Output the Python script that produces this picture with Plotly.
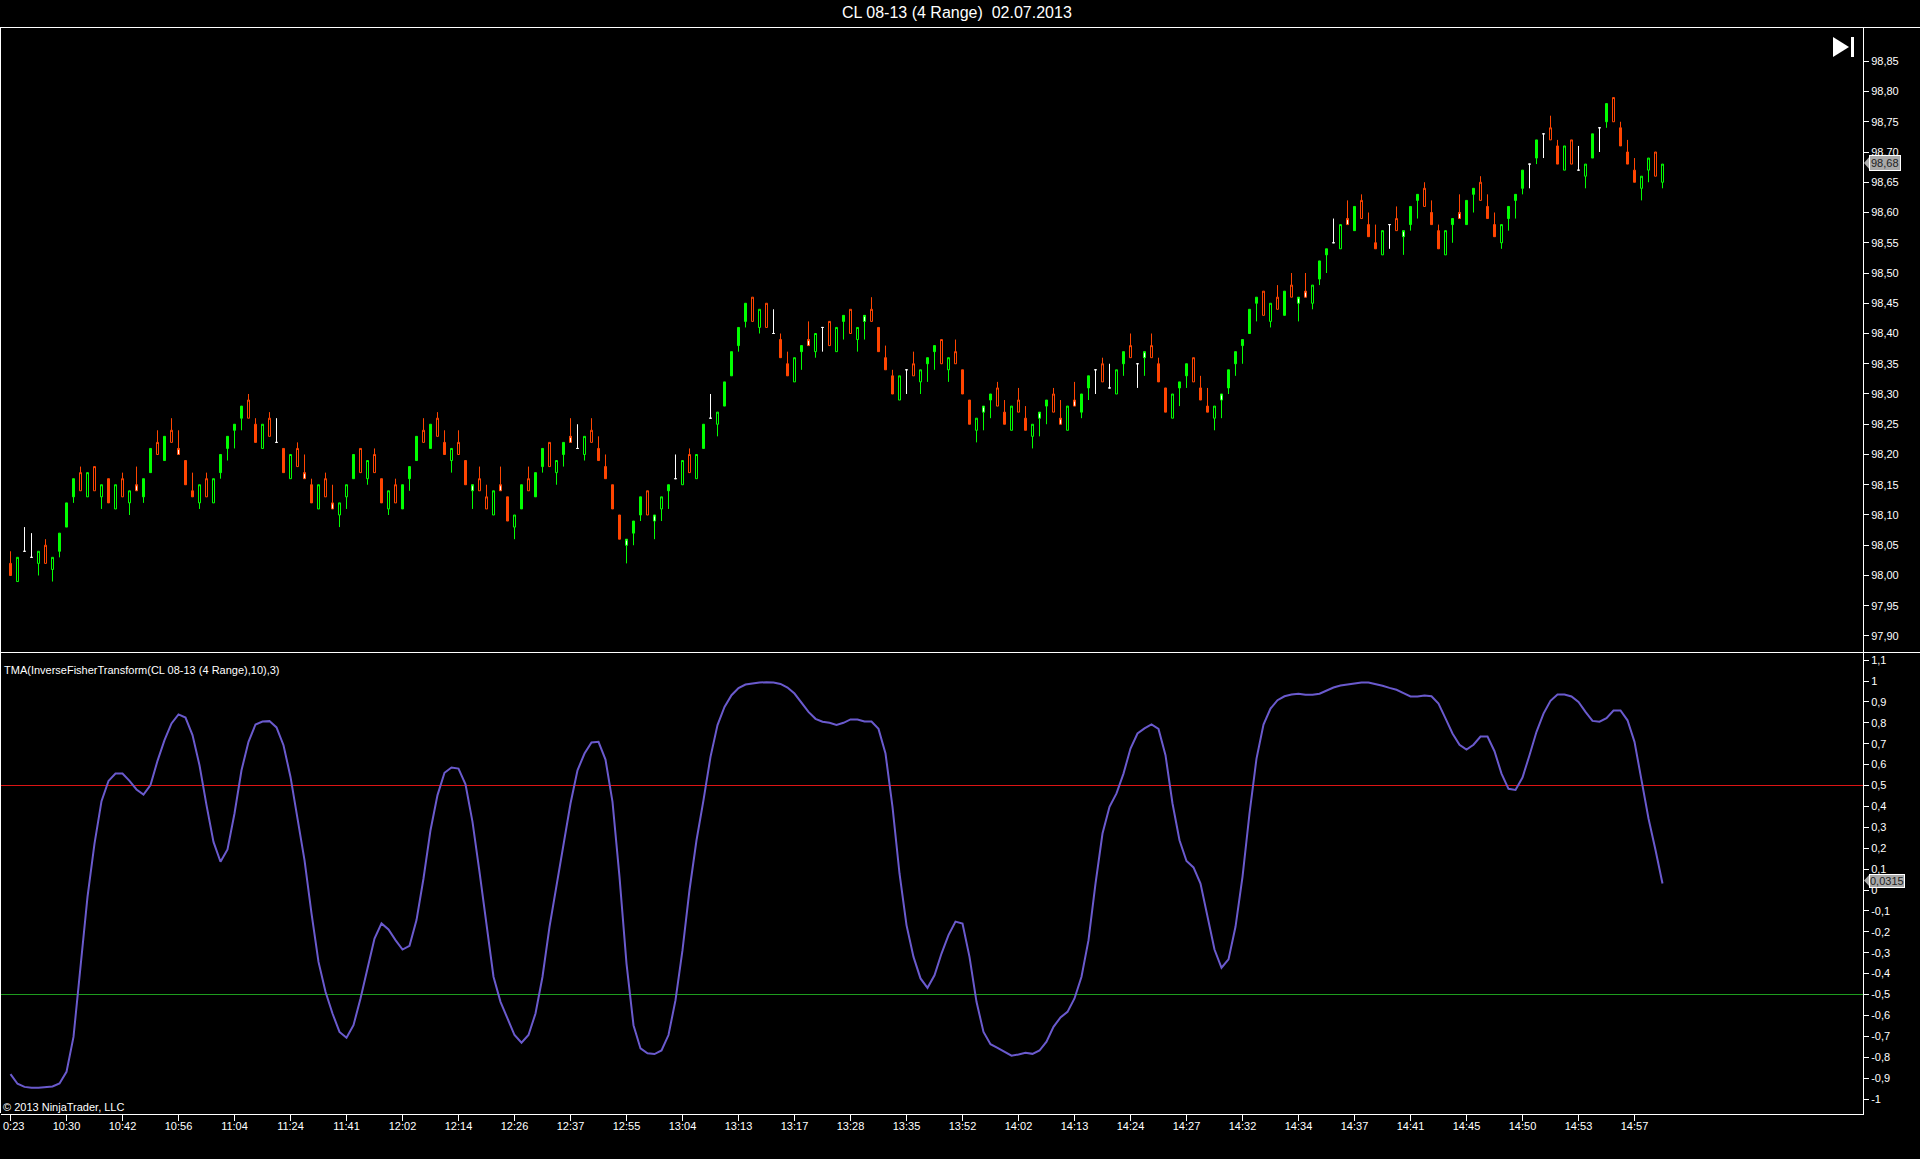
import plotly.graph_objects as go

W, H = 1920, 1159

title_text = "CL 08-13 (4 Range)\u00a0\u00a002.07.2013"
indicator_name = "TMA(InverseFisherTransform(CL 08-13 (4 Range),10),3)"
copyright_text = "\u00a9 2013 NinjaTrader, LLC"

# kinds: G/O hollow green/orange, g/o filled, S/s short body with white inside, W white doji
bar_kind = list(
    "oGWWGOGggg" "OGOGoGOGsg" "gOgOsooGOG" "ggggOoGOWo" "GOsoGOsGGg"
    "OGOoGOgggO" "gOoGOoSOOG" "soGgOggOGg" "sWGOooooSg" "gOSGgWGOGg"
    "WGggggOGOW" "ooGgsGWOGg" "OGSOoooGWO" "GggOGOooGS" "gOoGOoGSgO"
    "sGsggWOWGg" "OWSOooGggO" "ooGSgggggO" "GOgOSsGggW" "GsgOooGWOS"
    "ggOooGgsgg" "OooGgggWgW" "OoGOWGgWgO" "oooGGOG"
)

bar_high = [
    98.04, 98.03, 98.08, 98.07, 98.04, 98.06, 98.03, 98.07, 98.12, 98.16,
    98.18, 98.17, 98.18, 98.15, 98.16, 98.15, 98.17, 98.14, 98.18, 98.16,
    98.21, 98.24, 98.23, 98.26, 98.24, 98.19, 98.17, 98.15, 98.17, 98.16,
    98.20, 98.23, 98.25, 98.28, 98.30, 98.26, 98.25, 98.27, 98.26, 98.21,
    98.20, 98.22, 98.20, 98.16, 98.15, 98.17, 98.15, 98.12, 98.15, 98.20,
    98.21, 98.19, 98.21, 98.16, 98.14, 98.16, 98.15, 98.18, 98.23, 98.26,
    98.25, 98.27, 98.24, 98.21, 98.24, 98.19, 98.15, 98.18, 98.15, 98.14,
    98.18, 98.13, 98.10, 98.15, 98.18, 98.17, 98.21, 98.22, 98.19, 98.22,
    98.26, 98.25, 98.23, 98.26, 98.23, 98.20, 98.15, 98.10, 98.06, 98.09,
    98.13, 98.14, 98.10, 98.13, 98.15, 98.20, 98.19, 98.21, 98.20, 98.25,
    98.30, 98.27, 98.32, 98.37, 98.41, 98.45, 98.46, 98.44, 98.45, 98.44,
    98.40, 98.37, 98.36, 98.38, 98.42, 98.40, 98.41, 98.42, 98.41, 98.43,
    98.44, 98.41, 98.43, 98.46, 98.41, 98.38, 98.34, 98.33, 98.34, 98.37,
    98.34, 98.36, 98.38, 98.39, 98.36, 98.39, 98.34, 98.29, 98.26, 98.28,
    98.30, 98.32, 98.29, 98.28, 98.31, 98.28, 98.25, 98.27, 98.29, 98.31,
    98.29, 98.28, 98.32, 98.30, 98.33, 98.34, 98.36, 98.35, 98.34, 98.37,
    98.40, 98.35, 98.37, 98.40, 98.36, 98.31, 98.30, 98.32, 98.35, 98.36,
    98.33, 98.31, 98.28, 98.30, 98.34, 98.37, 98.39, 98.44, 98.46, 98.47,
    98.45, 98.48, 98.47, 98.50, 98.46, 98.50, 98.48, 98.52, 98.54, 98.59,
    98.58, 98.62, 98.61, 98.63, 98.60, 98.58, 98.57, 98.58, 98.61, 98.57,
    98.61, 98.63, 98.65, 98.62, 98.58, 98.57, 98.59, 98.63, 98.62, 98.64,
    98.66, 98.63, 98.60, 98.58, 98.61, 98.63, 98.67, 98.68, 98.72, 98.73,
    98.76, 98.72, 98.71, 98.72, 98.71, 98.68, 98.73, 98.74, 98.78, 98.79,
    98.75, 98.72, 98.69, 98.66, 98.69, 98.70, 98.68,
]
body_top = [
    98.02, 98.03, 98.04, 98.03, 98.04, 98.05, 98.03, 98.07, 98.12, 98.16,
    98.17, 98.17, 98.18, 98.15, 98.16, 98.15, 98.16, 98.14, 98.15, 98.16,
    98.21, 98.22, 98.23, 98.24, 98.21, 98.19, 98.14, 98.15, 98.16, 98.16,
    98.20, 98.23, 98.25, 98.28, 98.29, 98.25, 98.25, 98.26, 98.22, 98.21,
    98.20, 98.21, 98.17, 98.15, 98.15, 98.16, 98.12, 98.12, 98.15, 98.20,
    98.21, 98.19, 98.20, 98.16, 98.14, 98.15, 98.15, 98.18, 98.23, 98.24,
    98.25, 98.26, 98.22, 98.21, 98.22, 98.19, 98.15, 98.16, 98.13, 98.14,
    98.15, 98.13, 98.10, 98.15, 98.16, 98.17, 98.21, 98.22, 98.19, 98.22,
    98.23, 98.21, 98.23, 98.24, 98.21, 98.18, 98.15, 98.10, 98.06, 98.09,
    98.13, 98.14, 98.10, 98.13, 98.15, 98.16, 98.19, 98.20, 98.20, 98.25,
    98.26, 98.27, 98.32, 98.37, 98.41, 98.45, 98.46, 98.44, 98.45, 98.40,
    98.39, 98.35, 98.36, 98.38, 98.39, 98.40, 98.41, 98.42, 98.41, 98.43,
    98.44, 98.41, 98.43, 98.44, 98.41, 98.36, 98.33, 98.33, 98.34, 98.35,
    98.34, 98.36, 98.38, 98.39, 98.36, 98.37, 98.34, 98.29, 98.26, 98.28,
    98.30, 98.31, 98.27, 98.28, 98.29, 98.26, 98.25, 98.27, 98.29, 98.30,
    98.26, 98.28, 98.29, 98.30, 98.33, 98.34, 98.35, 98.31, 98.34, 98.37,
    98.38, 98.35, 98.37, 98.38, 98.35, 98.31, 98.30, 98.32, 98.35, 98.36,
    98.31, 98.28, 98.28, 98.30, 98.34, 98.37, 98.39, 98.44, 98.46, 98.47,
    98.45, 98.46, 98.47, 98.48, 98.46, 98.47, 98.48, 98.52, 98.54, 98.55,
    98.58, 98.59, 98.61, 98.62, 98.58, 98.55, 98.57, 98.58, 98.59, 98.57,
    98.61, 98.63, 98.64, 98.60, 98.57, 98.57, 98.59, 98.60, 98.62, 98.64,
    98.65, 98.61, 98.58, 98.58, 98.61, 98.63, 98.67, 98.68, 98.72, 98.73,
    98.74, 98.71, 98.71, 98.72, 98.67, 98.68, 98.73, 98.74, 98.78, 98.79,
    98.74, 98.70, 98.67, 98.66, 98.69, 98.70, 98.68,
]
body_bottom = [
    98.00, 97.99, 98.04, 98.03, 98.02, 98.02, 98.01, 98.04, 98.08, 98.13,
    98.14, 98.13, 98.14, 98.13, 98.12, 98.11, 98.13, 98.12, 98.14, 98.13,
    98.17, 98.20, 98.19, 98.22, 98.20, 98.15, 98.13, 98.12, 98.13, 98.12,
    98.17, 98.21, 98.24, 98.26, 98.26, 98.22, 98.21, 98.23, 98.22, 98.17,
    98.16, 98.18, 98.16, 98.12, 98.11, 98.13, 98.11, 98.10, 98.13, 98.16,
    98.17, 98.16, 98.17, 98.12, 98.11, 98.12, 98.11, 98.16, 98.19, 98.22,
    98.21, 98.23, 98.20, 98.19, 98.20, 98.15, 98.14, 98.14, 98.11, 98.10,
    98.14, 98.09, 98.08, 98.11, 98.14, 98.13, 98.18, 98.18, 98.17, 98.20,
    98.22, 98.21, 98.20, 98.22, 98.19, 98.16, 98.11, 98.06, 98.05, 98.07,
    98.10, 98.10, 98.09, 98.11, 98.14, 98.16, 98.15, 98.17, 98.16, 98.21,
    98.26, 98.25, 98.28, 98.33, 98.38, 98.42, 98.42, 98.41, 98.41, 98.40,
    98.36, 98.33, 98.32, 98.37, 98.38, 98.37, 98.41, 98.38, 98.37, 98.42,
    98.40, 98.39, 98.42, 98.42, 98.37, 98.34, 98.30, 98.29, 98.34, 98.33,
    98.32, 98.35, 98.37, 98.35, 98.34, 98.35, 98.30, 98.25, 98.24, 98.27,
    98.29, 98.28, 98.25, 98.24, 98.27, 98.24, 98.23, 98.26, 98.28, 98.27,
    98.25, 98.24, 98.28, 98.27, 98.31, 98.34, 98.32, 98.31, 98.30, 98.35,
    98.36, 98.35, 98.36, 98.36, 98.32, 98.27, 98.26, 98.31, 98.33, 98.32,
    98.29, 98.27, 98.26, 98.29, 98.31, 98.35, 98.38, 98.40, 98.45, 98.43,
    98.42, 98.44, 98.43, 98.46, 98.45, 98.46, 98.45, 98.49, 98.53, 98.55,
    98.54, 98.58, 98.57, 98.59, 98.56, 98.54, 98.53, 98.58, 98.57, 98.56,
    98.58, 98.62, 98.61, 98.58, 98.54, 98.53, 98.58, 98.59, 98.58, 98.63,
    98.62, 98.59, 98.56, 98.55, 98.59, 98.62, 98.64, 98.68, 98.69, 98.73,
    98.72, 98.68, 98.67, 98.68, 98.67, 98.66, 98.69, 98.74, 98.75, 98.75,
    98.71, 98.68, 98.65, 98.64, 98.67, 98.66, 98.65,
]
bar_low = [
    98.00, 97.99, 98.04, 98.03, 98.00, 98.02, 97.99, 98.03, 98.08, 98.12,
    98.14, 98.13, 98.14, 98.11, 98.12, 98.11, 98.13, 98.10, 98.14, 98.12,
    98.17, 98.20, 98.19, 98.22, 98.20, 98.15, 98.13, 98.11, 98.13, 98.12,
    98.16, 98.19, 98.21, 98.24, 98.26, 98.22, 98.21, 98.23, 98.22, 98.17,
    98.16, 98.18, 98.16, 98.12, 98.11, 98.13, 98.11, 98.08, 98.11, 98.16,
    98.17, 98.15, 98.17, 98.12, 98.10, 98.12, 98.11, 98.14, 98.19, 98.22,
    98.21, 98.23, 98.20, 98.17, 98.20, 98.15, 98.11, 98.14, 98.11, 98.10,
    98.14, 98.09, 98.06, 98.11, 98.14, 98.13, 98.17, 98.18, 98.15, 98.18,
    98.22, 98.21, 98.19, 98.22, 98.19, 98.16, 98.11, 98.06, 98.02, 98.05,
    98.09, 98.10, 98.06, 98.09, 98.11, 98.16, 98.15, 98.17, 98.16, 98.21,
    98.26, 98.23, 98.28, 98.33, 98.37, 98.41, 98.42, 98.40, 98.41, 98.40,
    98.36, 98.33, 98.32, 98.34, 98.38, 98.36, 98.37, 98.38, 98.37, 98.39,
    98.40, 98.37, 98.39, 98.42, 98.37, 98.34, 98.30, 98.29, 98.30, 98.33,
    98.30, 98.32, 98.34, 98.35, 98.32, 98.35, 98.30, 98.25, 98.22, 98.24,
    98.26, 98.28, 98.25, 98.24, 98.27, 98.24, 98.21, 98.23, 98.25, 98.27,
    98.25, 98.24, 98.28, 98.26, 98.29, 98.30, 98.32, 98.31, 98.30, 98.33,
    98.36, 98.31, 98.33, 98.36, 98.32, 98.27, 98.26, 98.28, 98.31, 98.32,
    98.29, 98.27, 98.24, 98.26, 98.30, 98.33, 98.35, 98.40, 98.42, 98.43,
    98.41, 98.44, 98.43, 98.46, 98.42, 98.46, 98.44, 98.48, 98.50, 98.55,
    98.54, 98.58, 98.57, 98.59, 98.56, 98.54, 98.53, 98.54, 98.57, 98.53,
    98.57, 98.59, 98.61, 98.58, 98.54, 98.53, 98.55, 98.59, 98.58, 98.60,
    98.62, 98.59, 98.56, 98.54, 98.57, 98.59, 98.63, 98.64, 98.68, 98.69,
    98.72, 98.68, 98.67, 98.68, 98.67, 98.64, 98.69, 98.70, 98.74, 98.75,
    98.71, 98.68, 98.65, 98.62, 98.65, 98.66, 98.64,
]

tma_values = [
    -0.881, -0.927, -0.942, -0.946, -0.946, -0.942, -0.940, -0.926, -0.870, -0.703,
    -0.352, -0.033, 0.222, 0.425, 0.522, 0.557, 0.557, 0.522, 0.481, 0.457,
    0.502, 0.618, 0.717, 0.797, 0.840, 0.825, 0.741, 0.597, 0.406, 0.230,
    0.135, 0.194, 0.366, 0.573, 0.709, 0.792, 0.806, 0.808, 0.778, 0.693,
    0.541, 0.342, 0.143, -0.112, -0.344, -0.487, -0.591, -0.679, -0.707, -0.647,
    -0.519, -0.376, -0.232, -0.160, -0.189, -0.240, -0.285, -0.267, -0.144, 0.055,
    0.286, 0.454, 0.561, 0.586, 0.581, 0.506, 0.326, 0.087, -0.176, -0.415,
    -0.535, -0.615, -0.694, -0.731, -0.694, -0.591, -0.415, -0.176, 0.015, 0.207,
    0.414, 0.573, 0.653, 0.706, 0.709, 0.624, 0.422, 0.063, -0.352, -0.647,
    -0.758, -0.781, -0.785, -0.768, -0.694, -0.527, -0.288, 0.000, 0.238, 0.430,
    0.637, 0.789, 0.876, 0.932, 0.966, 0.983, 0.988, 0.993, 0.994, 0.993,
    0.986, 0.969, 0.940, 0.897, 0.852, 0.819, 0.805, 0.800, 0.790, 0.800,
    0.816, 0.816, 0.806, 0.806, 0.771, 0.653, 0.398, 0.079, -0.168, -0.320,
    -0.423, -0.468, -0.408, -0.304, -0.216, -0.151, -0.160, -0.320, -0.535, -0.679,
    -0.738, -0.755, -0.774, -0.793, -0.787, -0.779, -0.784, -0.768, -0.726, -0.655,
    -0.610, -0.583, -0.519, -0.415, -0.240, 0.031, 0.270, 0.398, 0.462, 0.557,
    0.677, 0.749, 0.773, 0.792, 0.771, 0.645, 0.414, 0.238, 0.139, 0.108,
    0.031, -0.136, -0.285, -0.372, -0.332, -0.176, 0.063, 0.366, 0.629, 0.792,
    0.868, 0.908, 0.927, 0.935, 0.939, 0.934, 0.934, 0.939, 0.955, 0.969,
    0.978, 0.983, 0.988, 0.993, 0.993, 0.986, 0.977, 0.967, 0.958, 0.942,
    0.926, 0.926, 0.931, 0.927, 0.892, 0.821, 0.749, 0.695, 0.672, 0.695,
    0.734, 0.734, 0.664, 0.557, 0.484, 0.479, 0.538, 0.645, 0.757, 0.844,
    0.905, 0.935, 0.935, 0.926, 0.900, 0.852, 0.809, 0.805, 0.822, 0.859,
    0.859, 0.812, 0.709, 0.526, 0.342, 0.191, 0.0315,
]

# the first label is cut off by the window edge in the original, only "0:23" shows
first_time_label = "0:23"
time_labels = [
    "", "10:30", "10:42", "10:56", "11:04", "11:24", "11:41", "12:02", "12:14", "12:26",
    "12:37", "12:55", "13:04", "13:13", "13:17", "13:28", "13:35", "13:52", "14:02", "14:13",
    "14:24", "14:27", "14:32", "14:34", "14:37", "14:41", "14:45", "14:50", "14:53", "14:57",
]
price_ticks = [
    97.90, 97.95, 98.00, 98.05, 98.10, 98.15, 98.20, 98.25, 98.30, 98.35,
    98.40, 98.45, 98.50, 98.55, 98.60, 98.65, 98.70, 98.75, 98.80, 98.85,
]
tma_ticks = [
    1.1, 1, 0.9, 0.8, 0.7, 0.6, 0.5, 0.4, 0.3, 0.2, 0.1, 0,
    -0.1, -0.2, -0.3, -0.4, -0.5, -0.6, -0.7, -0.8, -0.9, -1,
]
tma_labels = [
    "1,1", "1", "0,9", "0,8", "0,7", "0,6", "0,5", "0,4", "0,3", "0,2", "0,1", "0",
    "-0,1", "-0,2", "-0,3", "-0,4", "-0,5", "-0,6", "-0,7", "-0,8", "-0,9", "-1",
]
upper_level = 0.5
lower_level = -0.5

GREEN = "#00ff00"
ORANGE = "#ff4500"
WHITE = "#ffffff"
FONT = "Liberation Sans"

# colour of outline, colour of body
styles = {
    "G": (GREEN, "#000000"),
    "g": (GREEN, GREEN),
    "O": (ORANGE, "#000000"),
    "o": (ORANGE, ORANGE),
    "S": (GREEN, WHITE),
    "s": (ORANGE, WHITE),
    "W": (WHITE, WHITE),
}


def fx(px):
    return px / W


def fy(px):
    return 1 - px / H


# one bar every 7 px. plot areas start on half pixels so the rounded candle edges stay sharp
right_px = 1863
x_range = [-10 / 7, -10 / 7 + (right_px - 0.5) / 7]
price_range = [97.8727, 98.9058]
tma_range = [-1.0694, 1.1364]

fig = go.Figure()

for kind, (edge, body) in styles.items():
    idx = [i for i, k in enumerate(bar_kind) if k == kind]
    falling = kind in "go"
    side = dict(line=dict(color=edge, width=1), fillcolor=body)
    fig.add_trace(go.Candlestick(
        x=idx,
        open=[body_top[i] if falling else body_bottom[i] for i in idx],
        high=[bar_high[i] for i in idx],
        low=[bar_low[i] for i in idx],
        close=[body_bottom[i] if falling else body_top[i] for i in idx],
        increasing=side,
        decreasing=side,
        showlegend=False,
        hoverinfo="skip",
        xaxis="x",
        yaxis="y",
    ))

fig.add_trace(go.Scatter(
    x=[x_range[0], x_range[1]], y=[upper_level, upper_level], mode="lines",
    line=dict(color="#dc1414", width=1), xaxis="x2", yaxis="y2",
    showlegend=False, hoverinfo="skip",
))
fig.add_trace(go.Scatter(
    x=[x_range[0], x_range[1]], y=[lower_level, lower_level], mode="lines",
    line=dict(color="#1e9c1e", width=1), xaxis="x2", yaxis="y2",
    showlegend=False, hoverinfo="skip",
))
fig.add_trace(go.Scatter(
    x=list(range(len(tma_values))), y=tma_values, mode="lines",
    line=dict(color="#6a5acd", width=2), xaxis="x2", yaxis="y2",
    showlegend=False, hoverinfo="skip",
))

tick_font = dict(family=FONT, size=11, color=WHITE)
y_common = dict(
    side="right", showgrid=False, zeroline=False, showline=True, linecolor=WHITE,
    linewidth=1, ticks="outside", ticklen=5, tickcolor=WHITE, tickwidth=1,
    tickfont=tick_font, tickmode="array", fixedrange=True,
)

chrome = dict(type="line", xref="paper", yref="paper", line=dict(color=WHITE, width=1), layer="above")
play_icon = "M %f,%f L %f,%f L %f,%f Z" % (fx(1833), fy(37), fx(1849), fy(47), fx(1833), fy(57))
price_tip = "M %f,%f L %f,%f L %f,%f Z" % (fx(1864), fy(163), fx(1870), fy(156), fx(1870), fy(170))
tma_tip = "M %f,%f L %f,%f L %f,%f Z" % (fx(1864), fy(880.5), fx(1870), fy(874), fx(1870), fy(887))

fig.update_layout(
    width=W,
    height=H,
    margin=dict(l=0, r=0, t=0, b=0),
    paper_bgcolor="#000000",
    plot_bgcolor="#000000",
    boxmode="overlay",
    boxgap=0.714,
    boxgroupgap=0,
    xaxis=dict(
        domain=[fx(0.5), fx(right_px)], range=x_range, anchor="y", showticklabels=False,
        showgrid=False, zeroline=False, ticks="", rangeslider=dict(visible=False), fixedrange=True,
    ),
    yaxis=dict(
        domain=[fy(652.5), fy(27.5)], range=price_range, anchor="x",
        tickvals=price_ticks, ticktext=[f"{v:.2f}".replace(".", ",") for v in price_ticks],
        **y_common,
    ),
    xaxis2=dict(
        domain=[fx(0.5), fx(right_px)], range=x_range, anchor="y2", showgrid=False, zeroline=False,
        showline=True, linecolor=WHITE, linewidth=1, ticks="outside", ticklen=6,
        tickcolor=WHITE, tickwidth=1, tickfont=tick_font, tickmode="array",
        tickvals=[i * 8 for i in range(len(time_labels))], ticktext=time_labels, fixedrange=True,
        ticklabelstandoff=-4,
    ),
    yaxis2=dict(
        domain=[fy(1113.5), fy(652.5)], range=tma_range, anchor="x2",
        tickvals=tma_ticks, ticktext=tma_labels, **y_common,
    ),
    shapes=[
        dict(chrome, x0=0, x1=1, y0=fy(27.5), y1=fy(27.5)),
        dict(chrome, x0=0, x1=1, y0=fy(652.5), y1=fy(652.5)),
        dict(chrome, x0=fx(0.5), x1=fx(0.5), y0=fy(27), y1=fy(1113)),
        dict(type="path", path=play_icon, xref="paper", yref="paper", fillcolor=WHITE, line=dict(width=0)),
        dict(type="rect", xref="paper", yref="paper", x0=fx(1851), x1=fx(1854), y0=fy(37), y1=fy(57),
             fillcolor=WHITE, line=dict(width=0)),
        dict(type="path", path=price_tip, xref="paper", yref="paper", fillcolor="#a9a9a9", line=dict(width=0)),
        dict(type="path", path=tma_tip, xref="paper", yref="paper", fillcolor="#a9a9a9", line=dict(width=0)),
    ],
    annotations=[
        dict(text=title_text, xref="paper", yref="paper", x=fx(957), y=fy(13), xanchor="center",
             yanchor="middle", showarrow=False, font=dict(family=FONT, size=16, color=WHITE)),
        dict(text=indicator_name, xref="paper", yref="paper", x=fx(2), y=fy(670), xanchor="left",
             yanchor="middle", showarrow=False, font=dict(family=FONT, size=11, color=WHITE)),
        dict(text=copyright_text, xref="paper", yref="paper", x=fx(1), y=fy(1107), xanchor="left",
             yanchor="middle", showarrow=False, font=dict(family=FONT, size=11, color=WHITE)),
        dict(text=first_time_label, xref="paper", yref="paper", x=fx(1), y=fy(1125.5), xanchor="left",
             yanchor="middle", showarrow=False, font=tick_font),
        dict(text=f"{body_top[-1]:.2f}".replace(".", ","), xref="paper", yref="paper", x=fx(1869), y=fy(163),
             xanchor="left", yanchor="middle", showarrow=False, bgcolor="#a9a9a9", bordercolor=WHITE,
             borderwidth=1, borderpad=1, font=dict(family=FONT, size=11, color="#222222")),
        dict(text=f"{tma_values[-1]:.4f}".replace(".", ","), xref="paper", yref="paper", x=fx(1869), y=fy(880.5),
             xanchor="left", yanchor="middle", showarrow=False, bgcolor="#a9a9a9", bordercolor=WHITE,
             borderwidth=1, borderpad=0, font=dict(family=FONT, size=11, color="#222222")),
    ],
)

fig.write_html(
    "out.html",
    config=dict(displayModeBar=False),
    post_script="document.body.style.margin='0';document.body.style.overflow='hidden';",
)
